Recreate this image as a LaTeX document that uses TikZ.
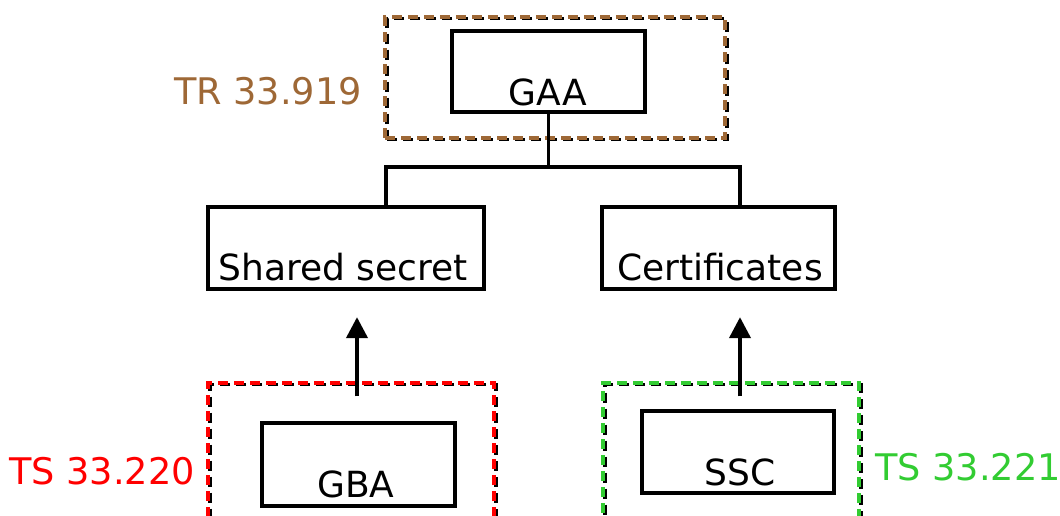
\documentclass[tikz,border=0pt]{standalone}
\usepackage{fontspec}
\setmainfont{DejaVu Sans}
\usetikzlibrary{arrows.meta,calc}
\definecolor{trbrown}{RGB}{158,104,54}
\definecolor{tsred}{RGB}{255,0,0}
\definecolor{tsgreen}{RGB}{50,204,50}

\begin{document}
\begin{tikzpicture}[x=0.75pt,y=-0.75pt,
  box/.style={draw=black,line width=3.2pt,rectangle,inner sep=0pt},
  zone/.style={draw=#1,line width=2.6pt,rectangle,inner sep=0pt,
    dash pattern=on 7.5pt off 4.5pt,
    preaction={draw=black,transform canvas={xshift=1.6pt,yshift=-1.3pt}}},
  txt/.style={font=\fontsize{27}{30}\selectfont,anchor=base,inner sep=0pt},
  spec/.style={font=\fontsize{27.5}{31}\selectfont,anchor=base,inner sep=0pt,text=#1},
  link/.style={line width=2.6pt},
  up/.style={line width=3pt,-{Triangle[length=15.75pt,width=15.75pt]}},
]
\clip (0,0) rectangle (1060,515);
\useasboundingbox (0,0) rectangle (1060,515);

% specification zones
\node (trzone)  [zone=trbrown, minimum width=255pt,   minimum height=90.75pt] at (555,77.5) {};
\node (gbazone) [zone=tsred,   minimum width=214.5pt, minimum height=150pt]   at (351,483) {};
\node (ssczone) [zone=tsgreen, minimum width=192pt,   minimum height=150pt]   at (731,483) {};

% boxes
\node (gaa)    [box, minimum width=144.75pt, minimum height=60.75pt] at (548.5,71.5) {};
\node (shared) [box, minimum width=207pt,    minimum height=61.5pt]  at (346,248) {};
\node (certs)  [box, minimum width=174.75pt, minimum height=61.5pt]  at (718.5,248) {};
\node (gba)    [box, minimum width=144.75pt, minimum height=62.25pt] at (358.5,464.5) {};
\node (ssc)    [box, minimum width=144pt,    minimum height=61.5pt]  at (738,452) {};

% box texts
\node (gaatxt)    [txt] at (548,105) {GAA};
\node (sharedtxt) [txt] at (343,280) {Shared secret};
\node (certstxt)  [txt] at (720,280) {Certificates};
\node (gbatxt)    [txt] at (356,497) {GBA};
\node (ssctxt)    [txt] at (740,485) {SSC};

% specification labels
\node (trlbl)  [spec=trbrown] at (268,104) {TR 33.919};
\node (gbalbl) [spec=tsred]   at (102,484) {TS 33.220};
\node (ssclbl) [spec=tsgreen] at (968,480) {TS 33.221};

% tree below GAA
\coordinate (busl) at (386,167);
\coordinate (busr) at (740,167);
\draw[link] (gaa.south) -- (gaa.south |- busl);
\draw[link] (shared.north -| busl) -- (busl) -- (busr) -- (certs.north -| busr);

% arrows from the mechanisms
\coordinate (axl) at (357,0);
\coordinate (axr) at (740,0);
\draw[up] ([yshift=-11.25pt]gbazone.north -| axl) -- ([yshift=-19.5pt]shared.south -| axl);
\draw[up] ([yshift=-11.25pt]ssczone.north -| axr) -- ([yshift=-19.5pt]certs.south -| axr);
\end{tikzpicture}
\end{document}
